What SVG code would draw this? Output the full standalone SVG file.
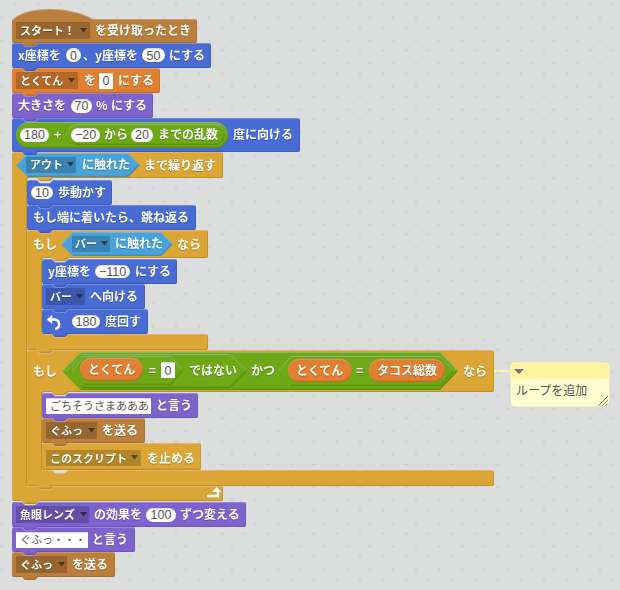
<svg xmlns="http://www.w3.org/2000/svg" width="620" height="590" viewBox="0 0 620 590">
<style>
text{font-family:"Noto Sans CJK JP","Noto Sans",sans-serif;font-size:12px}
.t{fill:#fff;font-weight:700;filter:drop-shadow(0 1px 0 rgba(0,0,0,.22))}
.s{font-size:11px}
.n{fill:#555;font-family:"Liberation Sans",Arial,sans-serif;font-size:12.5px;text-anchor:middle}
.g{fill:#555;font-size:11px}
.h{fill:#555;font-size:12px}
.blue{fill:#4a6cd4}.org{fill:#e07f33}.pur{fill:#7e64cf}.evt{fill:#bb7e3a}.ctl{fill:#dba634}.grn{fill:#6da816}.sen{fill:#4aa2da}
.b{filter:url(#bevel)}
.i{fill:#fff;filter:url(#inset)}
.tri{fill:#000;fill-opacity:.5}
.ddo{fill:#000;fill-opacity:.16;filter:url(#inset)}
</style>
<defs>
<pattern id="grid" width="23" height="23" patternUnits="userSpaceOnUse"><path d="M15,3V6M13.500,4.500H16.500M2,16V19M.5,17.500H3.500" stroke="#d1d2d2" stroke-width="1"/></pattern>
<filter id="bevel" x="-5%" y="-15%" width="110%" height="130%">
<feOffset in="SourceAlpha" dx="-.7" dy="-1.4" result="up"/>
<feComposite in="SourceAlpha" in2="up" operator="out" result="botEdge"/>
<feFlood flood-color="#000" flood-opacity=".27"/><feComposite in2="botEdge" operator="in" result="dark"/>
<feOffset in="SourceAlpha" dy="1" result="dn"/>
<feComposite in="SourceAlpha" in2="dn" operator="out" result="topEdge"/>
<feFlood flood-color="#fff" flood-opacity=".13"/><feComposite in2="topEdge" operator="in" result="light"/>
<feMerge><feMergeNode in="SourceGraphic"/><feMergeNode in="dark"/><feMergeNode in="light"/></feMerge>
</filter>
<filter id="inset" x="-5%" y="-15%" width="110%" height="130%">
<feOffset in="SourceAlpha" dy="1" result="dn"/>
<feComposite in="SourceAlpha" in2="dn" operator="out" result="topEdge"/>
<feFlood flood-color="#000" flood-opacity=".3"/><feComposite in2="topEdge" operator="in" result="dark"/>
<feMerge><feMergeNode in="SourceGraphic"/><feMergeNode in="dark"/></feMerge>
</filter>
</defs>
<rect width="620" height="590" fill="#dcdddd"/>
<rect width="620" height="590" fill="url(#grid)"/>

<g id="connectors">
<path d="M494,371H510" stroke="#fff6a0" stroke-width="2" fill="none"/>
</g>

<g id="loop">
<path class="ctl b" d="M12,154Q12,152 14,152H22L25,155H35L38,152H221Q223,152 223,154V176Q223,178 221,178H53L50,181H40L37,178H29Q27,178 27,180V484Q27,486 29,486H37L40,489H50L53,486H221Q223,486 223,488V499Q223,501 221,501H38L35,504H25L22,501H14Q12,501 12,499Z"/>
<path d="M207,496H218V491" fill="none" stroke="#fff" stroke-width="2.4"/><path d="M212,492L216.7,487L221.4,492Z" fill="#fff"/>
<path class="sen b" d="M16,165L28,153H128L140,165L128,177H28Z"/>
<rect class="ddo" x="26" y="157" width="50" height="16"/><path class="tri" d="M67,162h7l-3.500,4.500z"/>
<text class="t s" x="30" y="169">アウト</text><text class="t" x="82" y="169">に触れた</text><text class="t" x="144" y="170">まで繰り返す</text>
</g>

<g id="hat">
<path class="evt b" d="M12,20C20,12 35,9 50,9C65,9 80,12 93,19H195Q197,19 197,21V41Q197,43 195,43H38L35,46H25L22,43H14Q12,43 12,41Z"/>
<rect class="ddo" x="16" y="22" width="74" height="17"/><path class="tri" d="M80,28h7l-3.500,4.500z"/>
<text class="t s" x="20" y="35">スタート！</text><text class="t" x="95" y="35">を受け取ったとき</text>
</g>

<g id="setxy">
<path class="blue b" d="M12,45Q12,43 14,43H22L25,46H35L38,43H209Q211,43 211,45V66Q211,68 209,68H38L35,71H25L22,68H14Q12,68 12,66Z"/>
<rect class="i" x="66" y="48" width="15" height="14" rx="7"/><rect class="i" x="142" y="48" width="23" height="14" rx="7"/>
<text class="t" x="18" y="60">x座標を</text><text class="n" x="73.500" y="60">0</text><text class="t" x="83" y="60">、y座標を</text><text class="n" x="153.500" y="60">50</text><text class="t" x="169" y="60">にする</text>
</g>

<g id="setscore">
<path class="org b" d="M12,70Q12,68 14,68H22L25,71H35L38,68H158Q160,68 160,70V91Q160,93 158,93H38L35,96H25L22,93H14Q12,93 12,91Z"/>
<rect class="ddo" x="16" y="72" width="62" height="17"/><path class="tri" d="M68,78h7l-3.500,4.500z"/><rect class="i" x="99" y="73" width="14" height="16"/>
<text class="t s" x="20" y="85">とくてん</text><text class="t" x="84" y="85">を</text><text class="n" x="106" y="85">0</text><text class="t" x="118" y="85">にする</text>
</g>

<g id="setsize">
<path class="pur b" d="M12,95Q12,93 14,93H22L25,96H35L38,93H151Q153,93 153,95V116Q153,118 151,118H38L35,121H25L22,118H14Q12,118 12,116Z"/>
<rect class="i" x="71" y="99" width="21" height="14" rx="7"/>
<text class="t" x="18" y="110">大きさを</text><text class="n" x="81.500" y="110">70</text><text class="t" x="96" y="110">%</text><text class="t" x="111" y="110">にする</text>
</g>

<g id="pointdir">
<path class="blue b" d="M12,120Q12,118 14,118H22L25,121H35L38,118H298Q300,118 300,120V150Q300,152 298,152H38L35,155H25L22,152H14Q12,152 12,150Z"/>
<rect class="grn b" x="16" y="122" width="212" height="26" rx="13"/>
<rect class="grn b" x="67" y="124" width="158" height="21" rx="10.500"/>
<rect class="i" x="20" y="128" width="29" height="14" rx="7"/><rect class="i" x="71" y="128" width="29" height="14" rx="7"/><rect class="i" x="131" y="128" width="22" height="14" rx="7"/>
<text class="n" x="34.500" y="139">180</text><text class="t" x="54" y="139">+</text><text class="n" x="85.500" y="139">−20</text><text class="t" x="104" y="139">から</text><text class="n" x="142" y="139">20</text><text class="t" x="158" y="139">までの乱数</text><text class="t" x="233" y="139">度に向ける</text>
</g>

<g id="move">
<path class="blue b" d="M27,182Q27,180 29,180H37L40,183H50L53,180H110Q112,180 112,182V203Q112,205 110,205H53L50,208H40L37,205H29Q27,205 27,203Z"/>
<rect class="i" x="31" y="186" width="22" height="13" rx="6.500"/>
<text class="n" x="42" y="197">10</text><text class="t" x="58" y="197">歩動かす</text>
</g>

<g id="bounce">
<path class="blue b" d="M27,207Q27,205 29,205H37L40,208H50L53,205H194Q196,205 196,207V228Q196,230 194,230H53L50,233H40L37,230H29Q27,230 27,228Z"/>
<text class="t" x="33" y="222">もし端に着いたら、跳ね返る</text>
</g>

<g id="if1">
<path class="ctl b" d="M27,232Q27,230 29,230H37L40,233H50L53,230H206Q208,230 208,232V256Q208,258 206,258H68L65,261H55L52,258H44Q42,258 42,260V332Q42,334 44,334H52L55,337H65L68,334H206Q208,334 208,336V348Q208,350 206,350H53L50,353H40L37,350H29Q27,350 27,348Z"/>
<path class="sen b" d="M61,244L73,232H161L173,244L161,256H73Z"/>
<rect class="ddo" x="72" y="236" width="38" height="16"/><path class="tri" d="M101,241h7l-3.500,4.500z"/>
<text class="t" x="33" y="249">もし</text><text class="t s" x="75" y="248">バー</text><text class="t" x="115" y="248">に触れた</text><text class="t" x="177" y="249">なら</text>
</g>

<g id="sety">
<path class="blue b" d="M42,261Q42,259 44,259H52L55,262H65L68,259H175Q177,259 177,261V282Q177,284 175,284H68L65,287H55L52,284H44Q42,284 42,282Z"/>
<rect class="i" x="95" y="265" width="35" height="13" rx="6.500"/>
<text class="t" x="48" y="276">y座標を</text><text class="n" x="112.500" y="276">−110</text><text class="t" x="135" y="276">にする</text>
</g>

<g id="pointbar">
<path class="blue b" d="M42,286Q42,284 44,284H52L55,287H65L68,284H143Q145,284 145,286V307Q145,309 143,309H68L65,312H55L52,309H44Q42,309 42,307Z"/>
<rect class="ddo" x="46" y="288" width="39" height="17"/><path class="tri" d="M76,294h7l-3.500,4.500z"/>
<text class="t s" x="50" y="301">バー</text><text class="t" x="90" y="301">へ向ける</text>
</g>

<g id="turn">
<path class="blue b" d="M42,311Q42,309 44,309H52L55,312H65L68,309H146Q148,309 148,311V332Q148,334 146,334H68L65,337H55L52,334H44Q42,334 42,332Z"/>
<path d="M51,319.500H55A4.800,4.800 0 0 1 55,329" fill="none" stroke="#fff" stroke-width="2.400"/><path d="M47,319.500L52,315.500V323.500Z" fill="#fff" stroke="#fff" stroke-width=".6"/>
<rect class="i" x="72" y="315" width="28" height="13" rx="6.500"/>
<text class="n" x="86" y="326">180</text><text class="t" x="105" y="326">度回す</text>
</g>

<g id="if2">
<path class="ctl b" d="M27,352Q27,350 29,350H37L40,353H50L53,350H492Q494,350 494,352V390Q494,392 492,392H68L65,395H55L52,392H44Q42,392 42,394V468Q42,470 44,470H52L55,473H65L68,470H492Q494,470 494,472V484Q494,486 492,486H53L50,489H40L37,486H29Q27,486 27,484Z"/>
<path class="grn b" d="M62,371L81,352H440L458,371L440,390H81Z"/>
<path class="grn b" d="M66,371L83,354H230L247,371L230,388H83Z"/>
<path class="grn b" d="M72,371L84,356H171L183,371L171,385H84Z"/>
<path class="grn b" d="M278,371L291,356H441L454,371L441,386H291Z"/>
<rect class="org b" x="80" y="358" width="63" height="23" rx="11.500"/>
<rect class="i" x="161" y="362" width="14" height="16"/>
<rect class="org b" x="288" y="359" width="64" height="23" rx="11.500"/>
<rect class="org b" x="369" y="359" width="76" height="23" rx="11.500"/>
<text class="t" x="33" y="376">もし</text><text class="t" x="88" y="374">とくてん</text><text class="t" x="149" y="375">=</text><text class="n" x="168" y="375">0</text><text class="t" x="189" y="375">ではない</text><text class="t" x="251" y="375">かつ</text><text class="t" x="296" y="375">とくてん</text><text class="t" x="356" y="375">=</text><text class="t" x="377" y="375">タコス総数</text><text class="t" x="463" y="376">なら</text>
</g>

<g id="say1">
<path class="pur b" d="M42,395Q42,393 44,393H52L55,396H65L68,393H196Q198,393 198,395V416Q198,418 196,418H68L65,421H55L52,418H44Q42,418 42,416Z"/>
<rect class="i" x="46" y="398" width="105" height="16"/>
<text class="g" x="50" y="410">ごちそうさまあああ</text><text class="t" x="156" y="410">と言う</text>
</g>

<g id="broadcast1">
<path class="evt b" d="M42,420Q42,418 44,418H52L55,421H65L68,418H143Q145,418 145,420V441Q145,443 143,443H68L65,446H55L52,443H44Q42,443 42,441Z"/>
<rect class="ddo" x="46" y="422" width="51" height="17"/><path class="tri" d="M88,428h7l-3.500,4.500z"/>
<text class="t s" x="50" y="435">ぐふっ</text><text class="t" x="102" y="435">を送る</text>
</g>

<g id="stop">
<path class="ctl b" d="M42,445Q42,443 44,443H52L55,446H65L68,443H199Q201,443 201,445V468Q201,470 199,470H44Q42,470 42,468Z"/>
<rect class="ddo" x="46" y="450" width="95" height="16"/><path class="tri" d="M131,455h7l-3.500,4.500z"/>
<text class="t s" x="50" y="463">このスクリプト</text><text class="t" x="147" y="463">を止める</text>
</g>

<g id="fisheye">
<path class="pur b" d="M12,504Q12,502 14,502H22L25,505H35L38,502H244Q246,502 246,504V525Q246,527 244,527H38L35,530H25L22,527H14Q12,527 12,525Z"/>
<rect class="ddo" x="16" y="506" width="73" height="17"/><path class="tri" d="M80,512h7l-3.500,4.500z"/><rect class="i" x="146" y="508" width="30" height="14" rx="7"/>
<text class="t s" x="20" y="519">魚眼レンズ</text><text class="t" x="94" y="519">の効果を</text><text class="n" x="161" y="519">100</text><text class="t" x="180" y="519">ずつ変える</text>
</g>

<g id="say2">
<path class="pur b" d="M12,529Q12,527 14,527H22L25,530H35L38,527H133Q135,527 135,529V550Q135,552 133,552H38L35,555H25L22,552H14Q12,552 12,550Z"/>
<rect class="i" x="16" y="532" width="72" height="16"/>
<text class="g" x="20" y="544">ぐふっ・・・</text><text class="t" x="92" y="544">と言う</text>
</g>

<g id="broadcast2">
<path class="evt b" d="M12,554Q12,552 14,552H22L25,555H35L38,552H113Q115,552 115,554V575Q115,577 113,577H38L35,580H25L22,577H14Q12,577 12,575Z"/>
<rect class="ddo" x="16" y="556" width="51" height="17"/><path class="tri" d="M58,562h7l-3.500,4.500z"/>
<text class="t s" x="20" y="569">ぐふっ</text><text class="t" x="72" y="569">を送る</text>
</g>

<g id="comment">
<rect x="510" y="362" width="100" height="45" rx="5" fill="#fffdd0" stroke="#d9d9cf" stroke-width="1"/>
<path d="M510.500,379V367A4.500,4.500 0 0 1 515,362.500H605A4.500,4.500 0 0 1 609.500,367V379Z" fill="#fff5a0"/>
<path d="M514,369H524L519,374Z" fill="#777"/>
<text class="h" x="516" y="395">ループを追加</text>
<path d="M598,406L608,396M602,406L608,400M605.500,406L608,403.500" stroke="#777" stroke-width=".9" fill="none"/>
</g>
</svg>
